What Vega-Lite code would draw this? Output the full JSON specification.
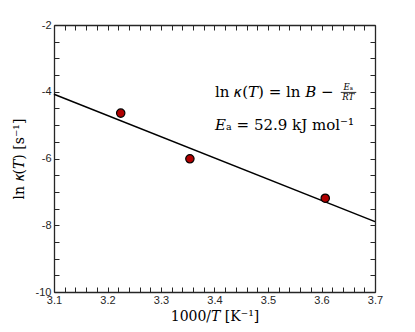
{
  "$schema": "https://vega.github.io/schema/vega-lite/v6.json",
  "width": 321,
  "height": 267,
  "autosize": {"type": "none"},
  "padding": {"left": 54, "top": 25, "right": 40, "bottom": 40},
  "background": "white",
  "config": {"view": {"stroke": null}},
  "datasets": {
    "pts": [
      {"x": 3.2247, "y": -4.64},
      {"x": 3.354, "y": -6.01},
      {"x": 3.607, "y": -7.19}
    ],
    "fit": [
      {"x": 3.1, "y": -4.075},
      {"x": 3.7, "y": -7.89}
    ],
    "ann": [
      {"x": 3.401, "y": -4.0, "t": "ln 𝜅(𝑇) = ln 𝐵 −", "s": 15},
      {"x": 3.401, "y": -5.0, "t": "𝐸ₐ = 52.9 kJ mol⁻¹", "s": 15}
    ],
    "frac": [
      {"x": 3.65, "y": -3.87, "t": "𝐸ₐ", "s": 8.5},
      {"x": 3.65, "y": -4.17, "t": "𝑅𝑇", "s": 8.5}
    ],
    "bar": [
      {"x": 3.636, "x2": 3.665, "y": -4.02}
    ]
  },
  "layer": [
    {
      "data": {"name": "fit"},
      "mark": {"type": "line", "color": "black", "strokeWidth": 1.5},
      "encoding": {
        "x": {
          "field": "x", "type": "quantitative",
          "scale": {"domain": [3.1, 3.7], "nice": false, "zero": false},
          "axis": {
            "orient": "bottom",
            "title": "1000/𝑇 [K⁻¹]",
            "values": [3.1,3.12,3.14,3.16,3.18,3.2,3.22,3.24,3.26,3.28,3.3,3.32,3.34,3.36,3.38,3.4,3.42,3.44,3.46,3.48,3.5,3.52,3.54,3.56,3.58,3.6,3.62,3.64,3.66,3.68,3.7],
            "labelExpr": "abs(datum.value*10 - round(datum.value*10)) < 0.001 ? format(datum.value, '.1f') : ''",
            "labelOverlap": false, "labelFlush": false,
            "tickSize": -5, "labelPadding": 7,
            "grid": false,
            "domainColor": "#262626", "domainWidth": 1.3,
            "tickColor": "#262626", "tickWidth": 1,
            "labelFont": "Liberation Sans", "labelFontSize": 11, "labelColor": "#262626",
            "titleFont": "DejaVu Serif", "titleFontSize": 14, "titleFontWeight": "normal", "titleColor": "#000000",
            "titlePadding": 4
          }
        },
        "y": {
          "field": "y", "type": "quantitative",
          "scale": {"domain": [-10, -2], "nice": false, "zero": false},
          "axis": {
            "orient": "left",
            "title": "ln 𝜅(𝑇) [s⁻¹]",
            "values": [-10,-9.5,-9,-8.5,-8,-7.5,-7,-6.5,-6,-5.5,-5,-4.5,-4,-3.5,-3,-2.5,-2],
            "labelExpr": "datum.value % 2 == 0 ? '' + datum.value : ''",
            "labelOverlap": false, "labelFlush": false,
            "tickSize": -5, "labelPadding": 8,
            "grid": false,
            "domainColor": "#262626", "domainWidth": 1.3,
            "tickColor": "#262626", "tickWidth": 1,
            "labelFont": "Liberation Sans", "labelFontSize": 11, "labelColor": "#262626",
            "titleFont": "DejaVu Serif", "titleFontSize": 14, "titleFontWeight": "normal", "titleColor": "#000000",
            "titlePadding": 9
          }
        }
      }
    },
    {
      "data": {"name": "fit"},
      "mark": {"type": "line", "opacity": 0},
      "encoding": {
        "x": {
          "field": "x", "type": "quantitative",
          "axis": {
            "orient": "top", "title": null, "labels": false,
            "values": [3.1,3.12,3.14,3.16,3.18,3.2,3.22,3.24,3.26,3.28,3.3,3.32,3.34,3.36,3.38,3.4,3.42,3.44,3.46,3.48,3.5,3.52,3.54,3.56,3.58,3.6,3.62,3.64,3.66,3.68,3.7],
            "tickSize": -5, "grid": false,
            "domainColor": "#262626", "domainWidth": 1.3,
            "tickColor": "#262626", "tickWidth": 1
          }
        },
        "y": {
          "field": "y", "type": "quantitative",
          "axis": {
            "orient": "right", "title": null, "labels": false,
            "values": [-10,-9.5,-9,-8.5,-8,-7.5,-7,-6.5,-6,-5.5,-5,-4.5,-4,-3.5,-3,-2.5,-2],
            "tickSize": -5, "grid": false,
            "domainColor": "#262626", "domainWidth": 1.3,
            "tickColor": "#262626", "tickWidth": 1
          }
        }
      }
    },
    {
      "data": {"name": "pts"},
      "mark": {"type": "point", "filled": true, "fill": "#b00000", "stroke": "black", "strokeWidth": 1.2, "size": 70, "opacity": 1},
      "encoding": {
        "x": {"field": "x", "type": "quantitative", "axis": null},
        "y": {"field": "y", "type": "quantitative", "axis": null}
      }
    },
    {
      "data": {"name": "ann"},
      "mark": {"type": "text", "align": "left", "baseline": "middle", "font": "DejaVu Serif", "color": "black"},
      "encoding": {
        "x": {"field": "x", "type": "quantitative", "axis": null},
        "y": {"field": "y", "type": "quantitative", "axis": null},
        "text": {"field": "t"},
        "size": {"field": "s", "type": "quantitative", "scale": null}
      }
    },
    {
      "data": {"name": "frac"},
      "mark": {"type": "text", "align": "center", "baseline": "middle", "font": "DejaVu Serif", "color": "black"},
      "encoding": {
        "x": {"field": "x", "type": "quantitative", "axis": null},
        "y": {"field": "y", "type": "quantitative", "axis": null},
        "text": {"field": "t"},
        "size": {"field": "s", "type": "quantitative", "scale": null}
      }
    },
    {
      "data": {"name": "bar"},
      "mark": {"type": "rule", "color": "black", "strokeWidth": 0.8},
      "encoding": {
        "x": {"field": "x", "type": "quantitative", "axis": null},
        "x2": {"field": "x2"},
        "y": {"field": "y", "type": "quantitative", "axis": null}
      }
    }
  ],
  "resolve": {"axis": {"x": "independent", "y": "independent"}}
}
